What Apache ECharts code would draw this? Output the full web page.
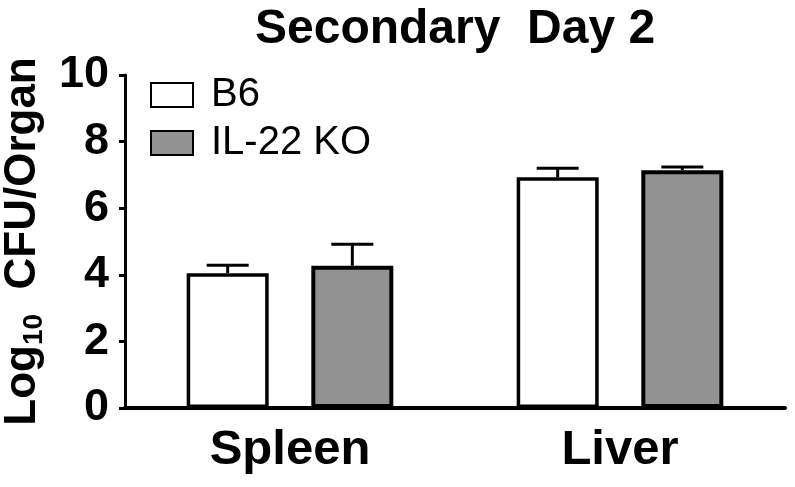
<!DOCTYPE html>
<html>
<head>
<meta charset="utf-8">
<script src="https://cdn.jsdelivr.net/npm/echarts@6/dist/echarts.min.js"></script>
<style>html,body{margin:0;padding:0;background:#fff}#c{width:795px;height:487px}</style>
</head>
<body>
<div id="c"></div>
<script>
var categories = ['Spleen', 'Liver'];
var seriesNames = ['B6', 'IL-22 KO'];
var b6Means = [4.05, 6.93];
var b6Err = [0.24, 0.27];
var koMeans = [4.27, 7.14];
var koErr = [0.65, 0.10];
var yTicks = [0, 2, 4, 6, 8, 10];

var FONT = "'Liberation Sans', Arial, Helvetica, sans-serif";
var BAR_W = 82;
var GAP = 0.52;
var OFF = (BAR_W + BAR_W * GAP) / 2;

var chart = echarts.init(document.getElementById('c'), null, {renderer: 'canvas'});

function errSeries(means, errs, sign) {
  return {
    type: 'custom',
    z: 1,
    silent: true,
    data: means.map(function (m, i) { return [i, m, m + errs[i]]; }),
    renderItem: function (params, api) {
      var i = api.value(0);
      var p0 = api.coord([i, api.value(1)]);
      var p1 = api.coord([i, api.value(2)]);
      var x = p0[0] + sign * OFF;
      var half = 21;
      return {
        type: 'group',
        children: [
          {type: 'line', shape: {x1: x, y1: p0[1], x2: x, y2: p1[1]}, style: {stroke: '#000', lineWidth: 3}},
          {type: 'line', shape: {x1: x - half, y1: p1[1], x2: x + half, y2: p1[1]}, style: {stroke: '#000', lineWidth: 3}}
        ]
      };
    }
  };
}

chart.setOption({
  animation: false,
  backgroundColor: '#fff',
  title: {
    text: 'Secondary  Day 2',
    left: 250,
    top: 1,
    padding: 5,
    textStyle: {fontFamily: FONT, fontSize: 48, fontWeight: 'bold', color: '#000'}
  },
  legend: {
    data: seriesNames,
    orient: 'vertical',
    left: 150,
    top: 73,
    padding: 0,
    itemWidth: 42,
    itemHeight: 24,
    itemGap: 4,
    icon: 'rect',
    textStyle: {fontFamily: FONT, fontSize: 40, lineHeight: 44, color: '#000', padding: [0, 0, 0, 13]}
  },
  grid: {left: 125, right: 10, top: 75, bottom: 79, containLabel: false, outerBoundsMode: 'none'},
  xAxis: {
    type: 'category',
    data: categories,
    axisLine: {lineStyle: {color: '#000', width: 4}},
    axisTick: {alignWithLabel: true, length: 10, lineStyle: {color: '#000', width: 3}},
    axisLabel: {fontFamily: FONT, fontSize: 49, fontWeight: 'bold', color: '#000', margin: 18}
  },
  yAxis: {
    type: 'value',
    min: yTicks[0],
    max: yTicks[yTicks.length - 1],
    interval: 2,
    name: '{a|Log}{s|10}{a|  CFU/Organ}',
    nameLocation: 'middle',
    nameRotate: 90,
    nameGap: 71,
    nameTextStyle: {
      rich: {
        a: {fontFamily: FONT, fontSize: 44, fontWeight: 'bold', color: '#000'},
        s: {fontFamily: FONT, fontSize: 28, fontWeight: 'bold', color: '#000', padding: [22, 0, 0, 0]}
      }
    },
    splitLine: {show: false},
    axisLine: {show: true, lineStyle: {color: '#000', width: 3}},
    axisTick: {show: true, length: 6, lineStyle: {color: '#000', width: 3}},
    axisLabel: {fontFamily: FONT, fontSize: 45, fontWeight: 'bold', color: '#000', margin: 16}
  },
  series: [
    {
      name: seriesNames[0], type: 'bar', data: b6Means, barWidth: BAR_W, barGap: (GAP * 100) + '%', z: 2,
      itemStyle: {color: '#fff', borderColor: '#000', borderWidth: 3.5}
    },
    {
      name: seriesNames[1], type: 'bar', data: koMeans, barWidth: BAR_W, z: 2,
      itemStyle: {color: '#929292', borderColor: '#000', borderWidth: 4}
    },
    errSeries(b6Means, b6Err, -1),
    errSeries(koMeans, koErr, 1)
  ]
});
</script>
</body>
</html>
